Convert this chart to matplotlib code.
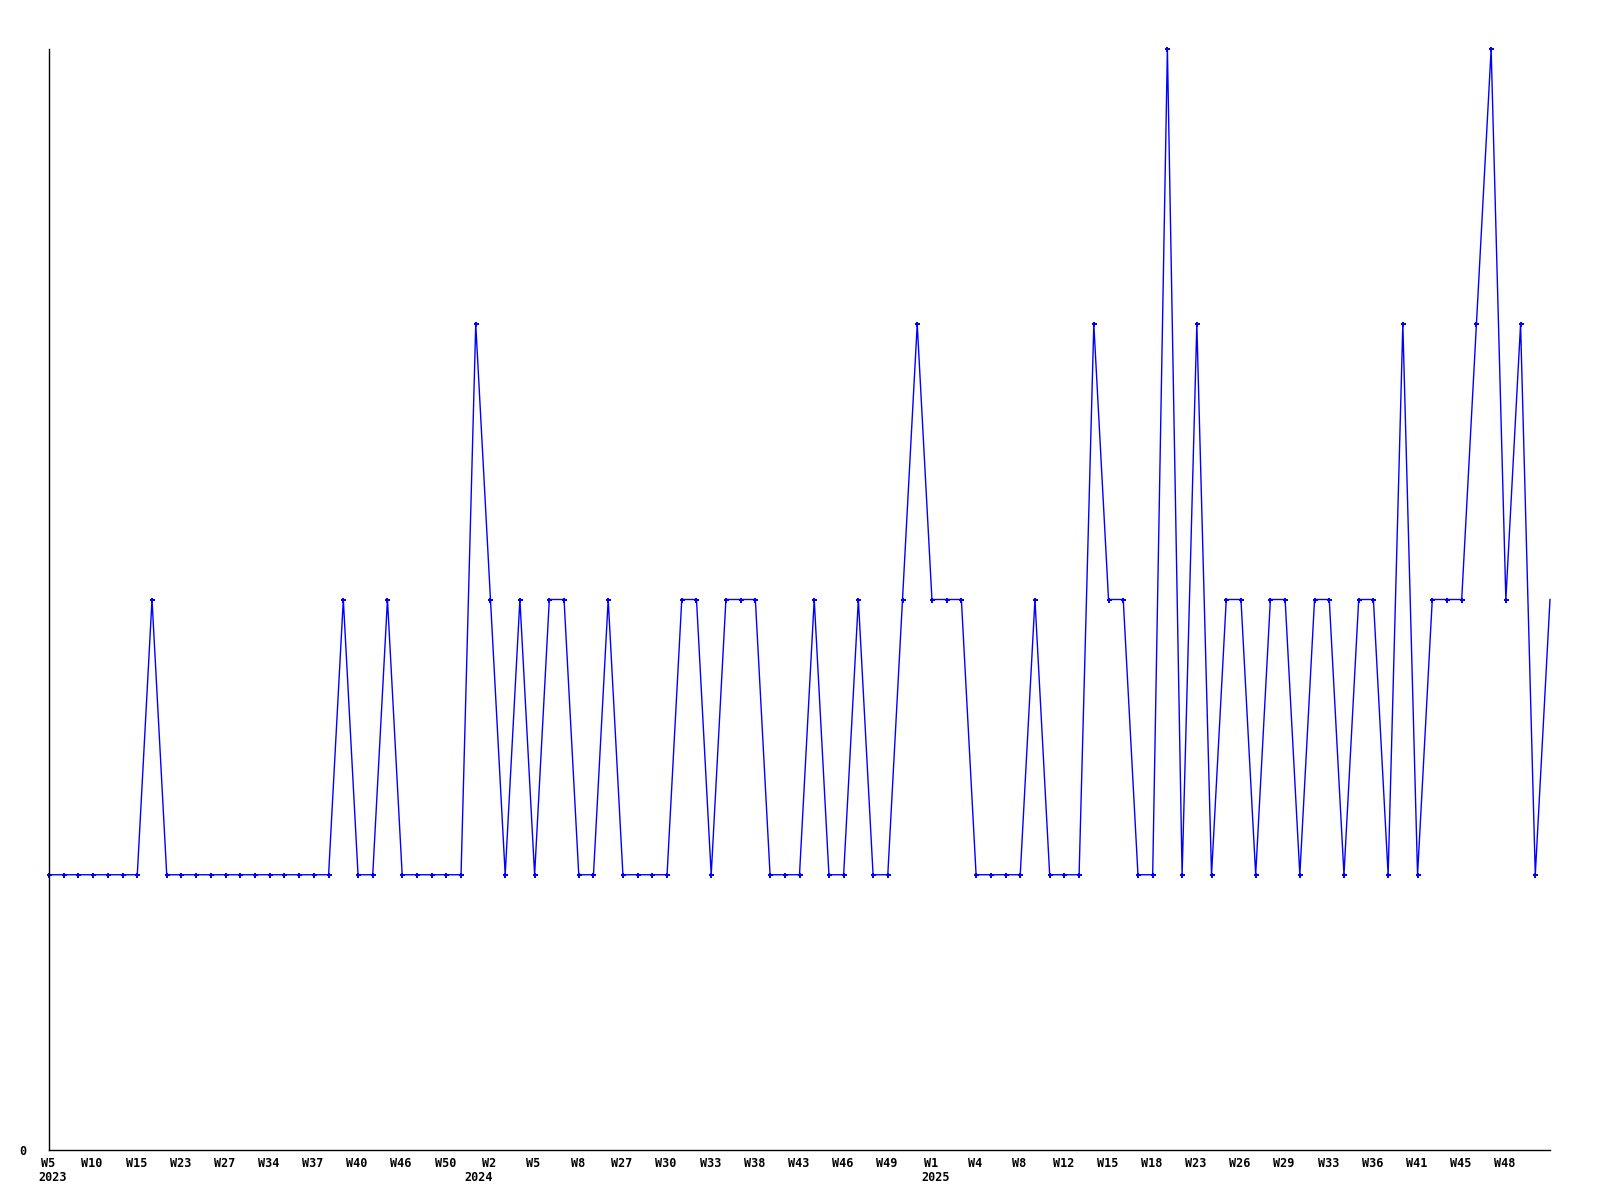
import matplotlib
matplotlib.use("Agg")
import matplotlib.pyplot as plt
from matplotlib.transforms import offset_copy, ScaledTranslation

# ---- data ----
values = [1, 1, 1, 1, 1, 1, 1, 2,
          1, 1, 1, 1, 1, 1, 1, 1, 1, 1, 1, 1,
          2, 1, 1, 2, 1, 1, 1, 1, 1,
          3, 2, 1, 2, 1, 2, 2, 1, 1, 2,
          1, 1, 1, 1, 2, 2, 1, 2, 2, 2,
          1, 1, 1, 2, 1, 1, 2, 1, 1, 2,
          3, 2, 2, 2, 1, 1, 1, 1, 2, 1, 1, 1,
          3, 2, 2, 1, 1, 4, 1, 3, 1, 2, 2, 1,
          2, 2, 1, 2, 2, 1, 2, 2, 1, 3, 1,
          2, 2, 2, 3, 4, 2, 3, 1, 2]
week_labels = ["W5", "W10", "W15", "W23", "W27", "W34", "W37", "W40", "W46", "W50",
               "W2", "W5", "W8", "W27", "W30", "W33", "W38", "W43", "W46", "W49",
               "W1", "W4", "W8", "W12", "W15", "W18", "W23", "W26", "W29", "W33",
               "W36", "W41", "W45", "W48"]
year_labels = ["2023", "2024", "2025"]
year_index = [0, 30, 60]

# ---- figure ----
fig = plt.figure(figsize=(16, 12), dpi=100)
ax = fig.add_axes([49 / 1600, 1 - 1150 / 1200, (1550 - 49) / 1600, (1150 - 49) / 1200])

x = list(range(len(values)))
ax.plot(x, values, color="#0000ff", lw=1.0, marker="P", ms=3.6, mew=0,
        markevery=list(range(len(values) - 1)), clip_on=False)

ax.set_xlim(0, len(values) - 1)
ax.set_ylim(0, 4)
for s in ("top", "right"):
    ax.spines[s].set_visible(False)
for s in ("left", "bottom"):
    ax.spines[s].set_color("black")
    ax.spines[s].set_linewidth(1.0)

font = dict(family="DejaVu Sans Mono", weight="bold", size=8.5)

ax.set_yticks([0])
ax.set_yticklabels(["0"], **font)
ax.tick_params(axis="y", length=0, pad=16)

tick_pos = list(range(0, len(values), 3))[:len(week_labels)]
ax.set_xticks(tick_pos)
ax.set_xticklabels(week_labels, **font)
ax.tick_params(axis="x", length=0, pad=5)
shift = ScaledTranslation(-1 / 100, 0, fig.dpi_scale_trans)
for lab in ax.get_xticklabels():
    lab.set_transform(lab.get_transform() + shift)

# year labels under the week labels
year_ha = ["left", "right", "left"]
year_dx = [-11, 2, -11]
for lab, idx, ha, dx in zip(year_labels, year_index, year_ha, year_dx):
    tr = offset_copy(ax.get_xaxis_transform(), fig=fig, x=dx * 0.72, y=-34 * 0.72, units="points")
    ax.text(idx, 0, lab, transform=tr, ha=ha, va="bottom", **font)

fig.savefig("out.png", dpi=100, facecolor="white")
